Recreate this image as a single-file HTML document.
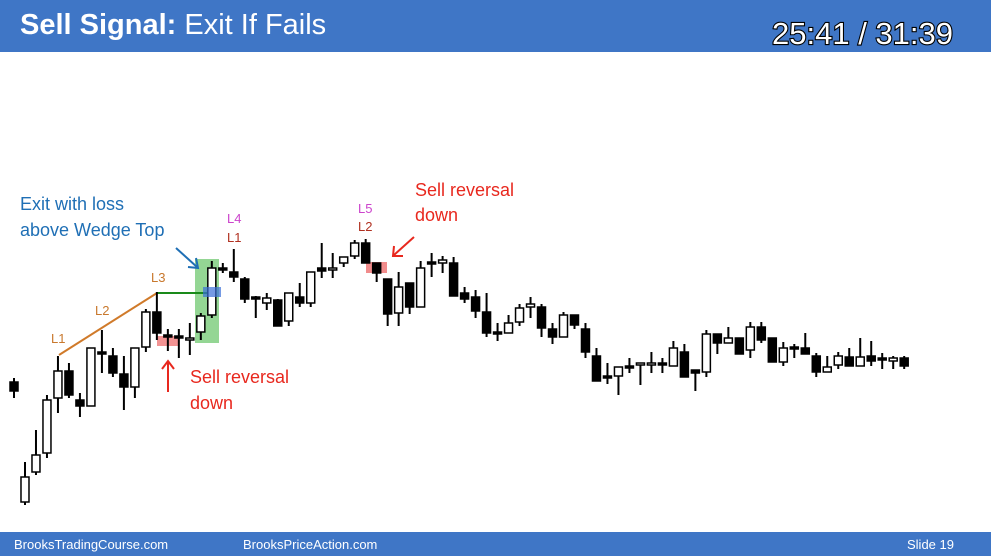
<!DOCTYPE html>
<html><head><meta charset="utf-8"><style>
html,body{margin:0;padding:0;width:991px;height:556px;overflow:hidden;background:#fff;font-family:"Liberation Sans",sans-serif}
</style></head><body>
<svg width="991" height="556" viewBox="0 0 991 556" xmlns="http://www.w3.org/2000/svg">
<rect x="0" y="0" width="991" height="52" fill="#3f76c6"/>
<text x="20" y="34" font-size="29" fill="#fff"><tspan font-weight="bold">Sell Signal:</tspan> Exit If Fails</text>
<text x="953" y="44" font-size="31" fill="#fff" stroke="#000" stroke-width="2.2" paint-order="stroke" text-anchor="end">25:41 / 31:39</text>
<rect x="0" y="532" width="991" height="24" fill="#3f76c6"/>
<text x="14" y="549" font-size="13" fill="#fff">BrooksTradingCourse.com</text>
<text x="243" y="549" font-size="13" fill="#fff">BrooksPriceAction.com</text>
<text x="907" y="549" font-size="13" fill="#fff">Slide  19</text>

<rect x="195" y="259" width="24" height="84" fill="#3cb43c" opacity="0.55"/>
<rect x="157" y="336" width="22" height="10" fill="#f08080" opacity="0.85"/>
<rect x="366" y="262" width="21" height="11" fill="#f08080" opacity="0.9"/>
<line x1="59" y1="355" x2="157" y2="293" stroke="#d07a2a" stroke-width="2"/>
<line x1="157" y1="293" x2="214" y2="293" stroke="#1a8a1a" stroke-width="2"/>

<g id="candles"></g>
<rect x="203" y="287" width="18" height="10" fill="#3a6fd8" opacity="0.7"/>

<g font-size="13">
<text x="51" y="343" fill="#c8782d">L1</text>
<text x="95" y="315" fill="#c8782d">L2</text>
<text x="151" y="282" fill="#c8782d">L3</text>
<text x="227" y="223" fill="#cc44cc">L4</text>
<text x="227" y="242" fill="#b03020">L1</text>
<text x="358" y="213" fill="#cc44cc">L5</text>
<text x="358" y="231" fill="#b03020">L2</text>
</g>
<g font-size="18">
<text x="20" y="210" fill="#1f6fb5">Exit with loss</text>
<text x="20" y="236" fill="#1f6fb5">above Wedge Top</text>
<text x="415" y="196" fill="#e8281e">Sell reversal</text>
<text x="415" y="221" fill="#e8281e">down</text>
<text x="190" y="383" fill="#e8281e">Sell reversal</text>
<text x="190" y="409" fill="#e8281e">down</text>
</g>
<g stroke-width="2" fill="none">
<line x1="176" y1="248" x2="197" y2="267" stroke="#1f6fb5"/>
<polyline points="188,267 198,268 196,258" stroke="#1f6fb5"/>
<line x1="168" y1="392" x2="168" y2="362" stroke="#e8281e"/>
<polyline points="162,369 168,361 174,369" stroke="#e8281e"/>
<line x1="414" y1="237" x2="394" y2="255" stroke="#e8281e"/>
<polyline points="394,246 393,256 403,256" stroke="#e8281e"/>
</g>
</svg>
<script>
const opens=[218,98,128,147,202,229,200,194,247,244,226,213,253,288,265,263,260,268,285,331,328,321,302,297,300,279,303,297,332,330,337,344,357,337,321,287,317,293,337,337,337,307,303,288,267,267,278,293,293,271,263,285,271,244,223,224,233,235,235,237,234,248,230,228,266,257,262,250,273,262,238,252,252,244,228,235,243,234,244,241,239,242];
const highs=[222,138,170,205,244,237,207,252,270,252,244,252,291,308,271,271,277,287,339,337,351,323,304,307,301,307,317,328,357,347,343,360,361,337,321,328,317,339,347,344,343,313,310,307,277,285,296,303,296,277,288,285,277,252,237,233,242,237,248,242,259,256,230,270,266,273,262,278,278,262,258,256,267,247,244,248,252,262,259,247,244,244];
const lows=[202,95,125,142,187,202,183,194,227,223,190,202,248,260,249,242,245,260,282,327,318,297,282,290,274,274,293,293,322,322,333,341,337,318,274,274,286,293,323,327,304,297,282,263,259,267,274,282,263,256,263,271,242,219,216,205,227,215,227,227,234,223,209,223,246,257,246,242,257,238,234,242,246,223,228,231,234,234,234,231,231,231];
const closes=[209,123,145,200,229,205,194,252,247,227,213,252,288,267,263,263,262,284,332,331,323,301,302,302,274,307,297,328,329,332,343,357,337,327,286,313,293,332,337,340,304,301,289,267,267,277,292,296,272,263,285,275,248,219,223,233,233,237,237,235,252,223,227,266,257,262,246,273,260,238,252,252,246,228,233,244,234,243,239,241,242,234];
const x0=14, step=10.99, bw=8;
function xScale(i){return x0+i*step;}
function yScale(p){return 600-p;}
const g=document.getElementById('candles');
const NS='http://www.w3.org/2000/svg';
for(let i=0;i<opens.length;i++){
  const x=xScale(i);
  const w=document.createElementNS(NS,'line');
  w.setAttribute('x1',x);w.setAttribute('x2',x);
  w.setAttribute('y1',yScale(highs[i]));w.setAttribute('y2',yScale(lows[i]));
  w.setAttribute('stroke','#000');w.setAttribute('stroke-width','2');
  
  
  g.appendChild(w);
  const top=yScale(Math.max(opens[i],closes[i]));
  const h=Math.abs(opens[i]-closes[i]);
  const b=document.createElementNS(NS,'rect');
  b.setAttribute('x',x-bw/2);
  b.setAttribute('y',h<2?top-1:top);
  b.setAttribute('width',bw);
  b.setAttribute('height',Math.max(h,2));
  const up=closes[i]>opens[i];
  b.setAttribute('fill',up?'#fff':'#000');
  b.setAttribute('stroke','#000');b.setAttribute('stroke-width','1.5');
  
  
  g.appendChild(b);
}
</script>
</body></html>
